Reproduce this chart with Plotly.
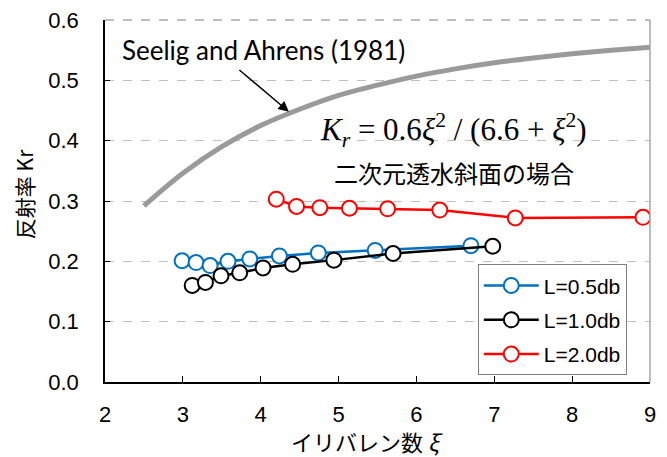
import plotly.graph_objects as go

# Seelig and Ahrens (1981) curve
curve_x = [2.5, 3.0, 3.5, 4.0, 4.5, 5.0, 5.5, 6.0, 6.5, 7.0, 7.5, 8.0, 8.5, 9.0]
curve_y = [0.292, 0.346, 0.390, 0.425, 0.452, 0.475, 0.492, 0.507, 0.519, 0.529, 0.537, 0.544, 0.550, 0.555]

# L=0.5db
x05 = [2.99, 3.17, 3.35, 3.58, 3.86, 4.24, 4.74, 5.47, 6.70]
y05 = [0.201, 0.198, 0.193, 0.200, 0.204, 0.209, 0.214, 0.218, 0.226]
# L=1.0db
x10 = [3.12, 3.29, 3.49, 3.73, 4.03, 4.41, 4.94, 5.70, 6.98]
y10 = [0.160, 0.165, 0.176, 0.181, 0.189, 0.195, 0.202, 0.213, 0.225]
# L=2.0db
x20 = [4.20, 4.46, 4.76, 5.14, 5.63, 6.30, 7.27, 8.91]
y20 = [0.303, 0.291, 0.289, 0.288, 0.287, 0.285, 0.272, 0.273]

series = [
    ("L=0.5db", x05, y05, "#0070C0"),
    ("L=1.0db", x10, y10, "#000000"),
    ("L=2.0db", x20, y20, "#FF0000"),
]

fig = go.Figure()
fig.add_trace(go.Scatter(x=curve_x, y=curve_y, mode="lines", line=dict(color="#9A9A9A", width=5, shape="spline"),
                         showlegend=False, hoverinfo="skip"))
for i, (name, xs, ys, col) in enumerate(series):
    fig.add_trace(go.Scatter(
        x=xs, y=ys, mode="lines+markers", name=name, legendgroup=f"g{i}",
        line=dict(color=col, width=2.5),
        marker=dict(symbol="circle", size=15, color="white", line=dict(color=col, width=2)),
    ))

font_main = "Liberation Sans, Arial, sans-serif"
fig.update_layout(
    width=667, height=457,
    margin=dict(l=105, r=17, t=20, b=75),
    paper_bgcolor="white", plot_bgcolor="white",
    font=dict(family=font_main, size=22, color="black"),
    legend=dict(
        x=0.684, y=0.325, xanchor="left", yanchor="top",
        bordercolor="#7F7F7F", borderwidth=1, bgcolor="white",
        font=dict(size=21, family=font_main),
        traceorder="grouped", tracegroupgap=4,
        itemwidth=55,
    ),
    xaxis=dict(
        range=[2, 9], dtick=1, tick0=2, showgrid=False, automargin=False,
        ticks="inside", ticklen=6, tickcolor="black", tickwidth=1,
        showline=True, linecolor="black", linewidth=1.5,
        tickfont=dict(size=22), zeroline=False, ticklabelstandoff=12,
    ),
    yaxis=dict(
        range=[0, 0.6], dtick=0.1, tickformat=".1f", showgrid=True, automargin=False,
        gridcolor="#BFBFBF", griddash="dash", gridwidth=1,
        ticks="inside", ticklen=5, tickcolor="black",
        showline=True, linecolor="black", linewidth=1.5, zeroline=False,
        tickfont=dict(size=22), ticklabelstandoff=20,
    ),
)

# frame: top dashed, right gray
fig.add_shape(type="line", xref="paper", yref="paper", x0=0, x1=1, y0=1, y1=1,
              line=dict(color="#7F7F7F", width=1, dash="dash"))
fig.add_shape(type="line", xref="paper", yref="paper", x0=1, x1=1, y0=0, y1=1,
              line=dict(color="#A6A6A6", width=1.5))

# axis titles
fig.add_annotation(xref="paper", yref="paper", x=0.481, y=-0.163, xanchor="center", yanchor="middle",
                   text="イリバレン数 <i>ξ</i>",
                   showarrow=False, font=dict(family="Noto Sans CJK JP", size=22))
fig.add_annotation(xref="paper", yref="paper", x=-0.1486, y=0.519, xanchor="center", yanchor="middle",
                   text="反射率 Kr", textangle=-90,
                   showarrow=False, font=dict(family="Noto Sans CJK JP", size=21))

fig.add_annotation(x=4.362, y=0.448, xref="x", yref="y", ax=-51, ay=-43, axref="pixel", ayref="pixel",
                   showarrow=True, arrowhead=2, arrowsize=1.4, arrowwidth=1.5, arrowcolor="black", text="")
fig.add_annotation(x=4.04, y=0.551, xref="x", yref="y", xanchor="center", yanchor="middle",
                   text="Seelig and Ahrens (1981)", showarrow=False,
                   font=dict(family="Lato, sans-serif", size=26))
fig.add_annotation(x=6.48, y=0.418, xref="x", yref="y", xanchor="center", yanchor="middle",
                   text="<i>K</i><sub><i>r</i></sub>&nbsp;=&nbsp;0.6<i>ξ</i><sup>2</sup>&nbsp;/&nbsp;(6.6&nbsp;+&nbsp;<i>ξ</i><sup>2</sup>)",
                   showarrow=False, font=dict(family="Liberation Serif, Times New Roman, serif", size=31))
fig.add_annotation(x=6.48, y=0.348, xref="x", yref="y", xanchor="center", yanchor="middle",
                   text="二次元透水斜面の場合", showarrow=False,
                   font=dict(family="Noto Sans CJK JP", size=24))

fig.write_html("out.html", config={"displayModeBar": False},
               post_script="document.body.style.margin='0';document.body.style.padding='0';")
